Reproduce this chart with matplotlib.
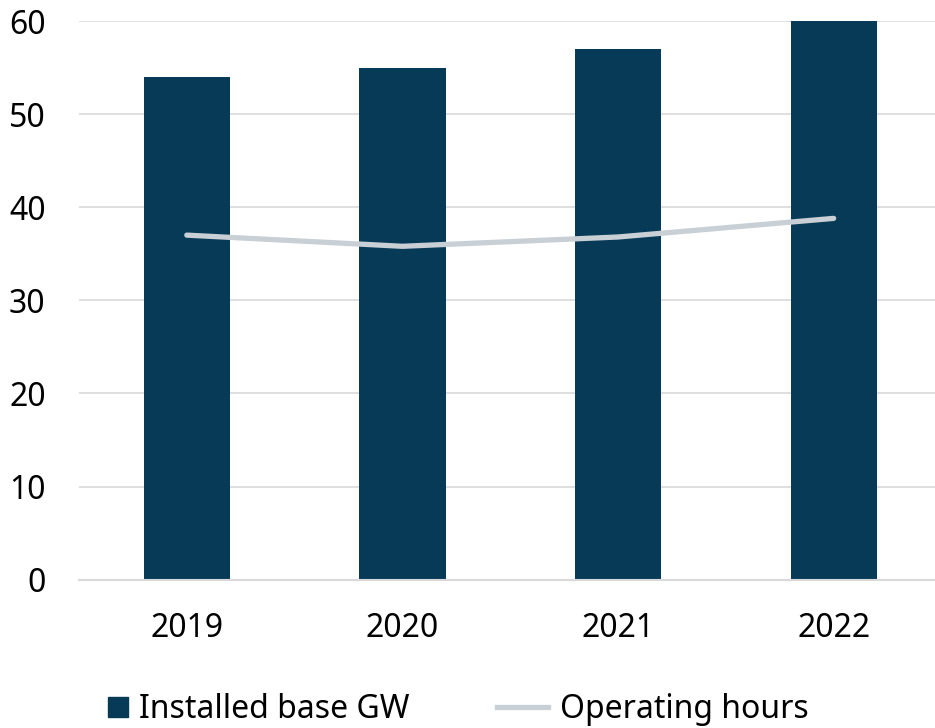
import matplotlib.pyplot as plt
from matplotlib.lines import Line2D
from matplotlib.patches import Rectangle
from matplotlib.legend_handler import HandlerPatch
import numpy as np

plt.rcParams['font.family'] = ['Noto Sans', 'DejaVu Sans']

# Data.
years = ["2019", "2020", "2021", "2022"]
installed_gw = [54, 55, 57, 60]
operating_hours = [37.0, 35.8, 36.8, 38.8]
y_ticks = [0, 10, 20, 30, 40, 50, 60]

bar_color = "#073a57"
line_color = "#c8cfd5"
grid_color = "#d9d9d9"
fs = 23

fig = plt.figure(figsize=(9.35, 7.28), dpi=100)
ax = fig.add_axes([79 / 935, 1 - 579.6 / 728, (935 - 79) / 935, 558.6 / 728])

x = np.arange(len(years))
ax.bar(x, installed_gw, width=0.4, color=bar_color, zorder=2)
ax.plot(x, operating_hours, color=line_color, lw=3.8, solid_capstyle="round", zorder=3)

ax.set_xlim(-0.5, 3.47)
ax.set_ylim(0, 60)
ax.set_yticks(y_ticks)
ax.set_xticks(x)
ax.set_xticklabels(years)
ax.tick_params(axis="both", length=0, labelsize=fs, colors="black")
ax.tick_params(axis="y", pad=24)
ax.tick_params(axis="x", pad=23)
ax.yaxis.grid(True, color=grid_color, lw=1.2, zorder=0)
ax.set_axisbelow(True)
for side in ["top", "right", "left"]:
    ax.spines[side].set_visible(False)
ax.spines["bottom"].set_color(grid_color)
ax.spines["bottom"].set_linewidth(1.5)


# square legend key pushed to the right end of the handle box
def square_key(legend, orig_handle, xdescent, ydescent, width, height, fontsize):
    s = 14.4
    return Rectangle((-xdescent + width - s, -ydescent + (height - s) / 2), s, s)


handles = [
    Rectangle((0, 0), 1, 1, color=bar_color),
    Line2D([], [], color=line_color, lw=3.8),
]
fig.legend(handles, ["Installed base GW", "Operating hours"], loc="center",
           bbox_to_anchor=(0.4735, 1 - 710 / 728), ncol=2, frameon=False,
           fontsize=fs, handlelength=1.6, handletextpad=0.35, columnspacing=2.74,
           handler_map={Rectangle: HandlerPatch(patch_func=square_key)})

fig.savefig("out.png", dpi=100)
